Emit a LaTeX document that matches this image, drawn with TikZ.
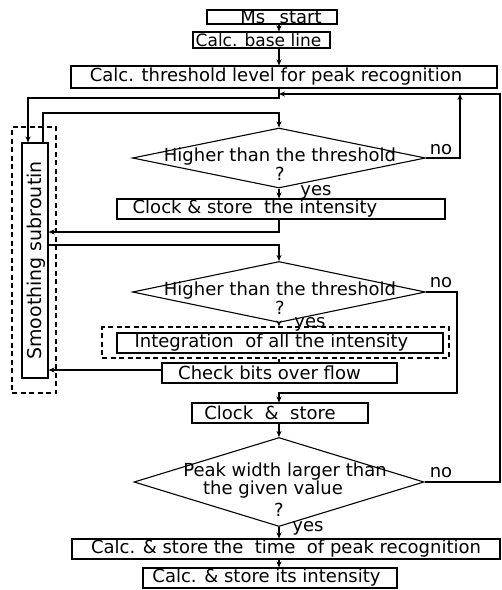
\documentclass[tikz,border=0pt]{standalone}
\usepackage{fontspec}
\setmainfont{DejaVu Sans}
\usetikzlibrary{arrows.meta,shapes.geometric}
\begin{document}
\begin{tikzpicture}[x=1pt,y=-1pt,
  every node/.style={font=\fontsize{18}{20}\selectfont},
  line/.style={line width=1.1pt},
  arr/.style={line width=1.1pt,-{Stealth[length=6pt,width=5pt]}},
  pbox/.style={draw,line width=1.1pt,inner sep=0pt,rectangle},
  dbox/.style={draw,line width=1.1pt,inner sep=0pt,rectangle,dash pattern=on 5pt off 3.5pt},
  dia/.style={draw,line width=1.1pt,diamond,inner sep=0pt},
  txt/.style={inner sep=0pt,anchor=base},
]
\useasboundingbox (0,0) rectangle (502,590);
% helper coordinates
\coordinate (cx) at (279,0);
\coordinate (sL) at (28,0);
\coordinate (sR) at (43,0);
\coordinate (jt) at (279,94);
\coordinate (j1) at (279,98);
\coordinate (j2) at (279,113);
\coordinate (j3) at (279,232);
\coordinate (j4) at (279,245);
\coordinate (j5) at (279,393);
\coordinate (r1) at (460,0);
\coordinate (r2) at (457,0);
\coordinate (r3) at (500,0);

% boxes
\node[pbox,minimum width=130pt,minimum height=14pt,label={[xshift=9pt,inner sep=0pt]center:Ms\hspace{0.8em}start}] (start) at (272,17) {};
\node[pbox,minimum width=137pt,minimum height=16pt,label={[xshift=-3pt,inner sep=0pt,font=\fontsize{17}{19}\selectfont]center:Calc. base line}] (base) at (261.5,40) {};
\node[pbox,minimum width=426pt,minimum height=22pt,label={[xshift=-8pt,inner sep=0pt]center:Calc. threshold level for peak recognition}] (thr) at (284,77) {};
\node[pbox,minimum width=328pt,minimum height=20pt,label={[xshift=-26pt,inner sep=0pt]center:Clock \& store\ \ the intensity}] (clk1) at (281,209) {};
\node[dbox,minimum width=347pt,minimum height=31pt] (intd) at (275.5,342.5) {};
\node[pbox,minimum width=326pt,minimum height=20pt,label={[xshift=-8.5pt,inner sep=0pt]center:Integration\ \ of all the intensity}] (int) at (280,343) {};
\node[pbox,minimum width=235pt,minimum height=20pt,label={[xshift=-10pt,inner sep=0pt]center:Check bits over flow}] (chk) at (279.5,373) {};
\node[pbox,minimum width=176pt,minimum height=20pt,label={[xshift=-10pt,inner sep=0pt]center:Clock\ \ \&\ \ store}] (clk2) at (280,413) {};
\node[pbox,minimum width=428pt,minimum height=20pt,label={[inner sep=0pt]center:Calc. \& store the\ \ time\ \ of peak recognition}] (calc1) at (286,549) {};
\node[pbox,minimum width=254pt,minimum height=20pt,label={[xshift=-3.5pt,inner sep=0pt]center:Calc. \& store its intensity}] (calc2) at (270,578) {};
\node[dbox,minimum width=44pt,minimum height=266pt] (smoothd) at (34,260) {};
\node[pbox,minimum width=26pt,minimum height=235pt,label={[rotate=90,inner sep=0pt,yshift=-1.5pt,font=\fontsize{19}{21}\selectfont]center:Smoothing subroutin}] (smooth) at (35,260.5) {};

% diamonds
\node[dia,minimum width=293pt,minimum height=60pt] (d1) at (279,158) {};
\node[dia,minimum width=293pt,minimum height=61pt] (d2) at (279,292) {};
\node[dia,minimum width=290pt,minimum height=89pt] (d3) at (279,482) {};

% diamond texts
\node[txt] (d1t) at (280,161) {Higher than the threshold};
\node[txt] (d1q) at (280,180) {?};
\node[txt] (d2t) at (280,295) {Higher than the threshold};
\node[txt] (d2q) at (280,314) {?};
\node[txt] (d3t) at (285,476) {Peak width larger than};
\node[txt] (d3u) at (273,494) {the given value};
\node[txt] (d3q) at (279,516) {?};

% yes / no
\node[txt] (no1) at (441,154) {no};
\node[txt] (no2) at (441,287) {no};
\node[txt] (no3) at (441,477) {no};
\node[txt] (yes1) at (316,195) {yes};
\node[txt] (yes2) at (310,327) {yes};
\node[txt] (yes3) at (308,531) {yes};

% connectors
\draw[arr] (start.south -| cx) -- (base.north -| cx);
\draw[arr] (base.south -| cx) -- (thr.north -| cx);
\draw[arr] (thr.south -| cx) -- (j1) -| (sL |- smooth.north);
\draw[arr] (sR |- smooth.north) |- (j2) -- (d1.north);
\draw[arr] (d1.east) -| (r1 |- jt);
\draw[arr] (d3.east) -| (r3 |- jt) -- (jt);
\draw[arr] (d1.south) -- (clk1.north -| cx);
\draw[arr] (clk1.south -| cx) -- (j3) -- (smooth.east |- j3);
\draw[arr] (smooth.east |- j4) -- (j4) -- (d2.north);
\draw[arr] (d2.south) -- (intd.north -| cx);
\draw[line] (intd.south -| cx) -- (chk.north -| cx);
\coordinate (ck) at ([yshift=3pt]chk.west);
\draw[arr] (ck) -- (ck -| smooth.east);
\draw[arr] (d2.east) -| (r2 |- j5) -- (j5) -- (clk2.north -| cx);
\draw[arr] (clk2.south -| cx) -- (d3.north);
\draw[arr] (d3.south) -- (calc1.north -| cx);
\draw[arr] (calc1.south -| cx) -- (calc2.north -| cx);
\end{tikzpicture}
\end{document}
